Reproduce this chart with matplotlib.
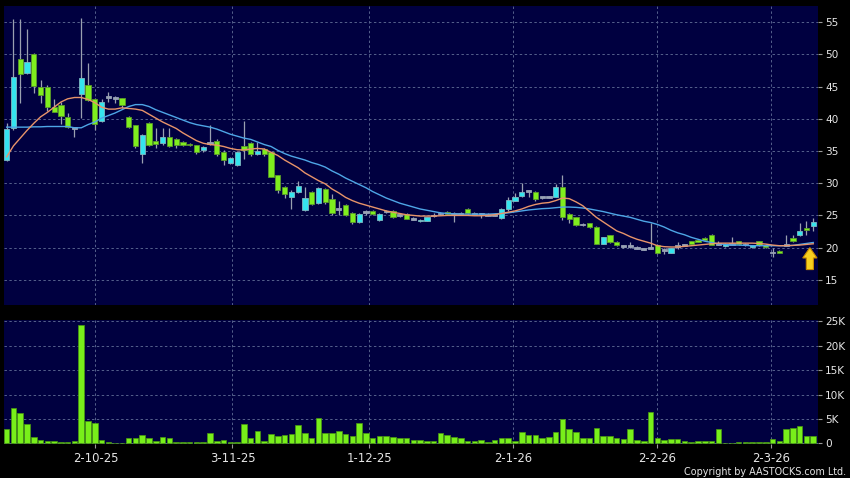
import matplotlib
matplotlib.use("Agg")
import matplotlib.pyplot as plt
from matplotlib.patches import FancyArrow
import numpy as np

# ---------------- data ----------------
opens = [33.6, 38.5, 49.2, 47.05, 50.0, 45.0, 45.0, 41.8, 42.2, 40.2,
         38.6, 43.9, 45.3, 43.0, 39.6, 43.4, 43.2, 43.2, 40.3, 39.0,
         34.5, 39.3, 36.6, 36.2, 37.2, 36.9, 36.35, 36.1, 35.9, 35.15,
         36.3, 36.6, 34.9, 33.1, 32.8, 35.8, 36.2, 34.5, 35.3, 34.8,
         31.2, 29.4, 27.9, 28.7, 25.85, 28.7, 26.9, 29.1, 27.5, 26.0,
         26.6, 25.4, 23.95, 25.5, 25.7, 24.3, 25.6, 25.75, 25.1, 25.2,
         24.5, 24.1, 24.15, 25.0, 25.3, 25.6, 25.3, 25.3, 26.0, 25.2,
         25.2, 25.1, 25.1, 24.6, 26.0, 27.3, 28.0, 28.8, 28.7, 27.8,
         27.8, 27.9, 29.4, 25.2, 24.7, 23.6, 23.8, 23.2, 20.6, 21.9,
         20.95, 20.2, 20.2, 20.0, 19.8, 20.0, 20.45, 19.6, 19.2, 20.3,
         20.4, 21.0, 21.2, 21.5, 22.0, 20.6, 20.2, 20.6, 21.0, 20.5,
         20.05, 21.0, 20.45, 19.25, 19.5, 20.4, 21.5, 21.9, 23.1, 23.4]
highs = [39.4, 55.5, 55.5, 54.0, 50.2, 46.0, 45.2, 43.0, 42.6, 40.9,
         38.8, 55.6, 48.6, 43.3, 43.0, 44.2, 43.6, 43.3, 40.5, 39.1,
         37.6, 39.5, 38.5, 38.5, 38.5, 37.0, 36.5, 36.3, 36.0, 35.8,
         39.0, 36.8, 35.2, 34.0, 35.0, 39.6, 36.4, 36.4, 35.5, 34.9,
         31.3, 29.5, 28.9, 30.4, 29.4, 28.8, 29.4, 29.2, 28.4, 27.2,
         26.8, 25.6, 25.3, 25.9, 25.8, 25.3, 25.9, 25.8, 25.4, 25.3,
         24.8, 24.4, 24.8, 25.3, 25.6, 25.7, 25.5, 25.5, 26.1, 25.5,
         25.4, 25.3, 25.3, 26.1, 27.8, 28.5, 30.0, 28.9, 28.8, 27.9,
         28.0, 29.9, 31.2, 25.3, 24.8, 23.8, 23.9, 23.3, 21.7, 22.0,
         21.0, 20.4, 20.9, 20.2, 20.0, 23.9, 20.5, 20.0, 20.0, 20.8,
         20.6, 21.1, 21.4, 21.7, 22.1, 21.1, 20.7, 21.6, 21.1, 20.7,
         20.4, 21.1, 20.5, 19.9, 19.6, 22.0, 21.9, 23.8, 24.1, 24.6]
lows = [33.4, 38.3, 42.5, 47.0, 44.0, 42.4, 41.2, 41.0, 39.2, 38.5,
        37.2, 40.1, 42.8, 38.3, 39.5, 42.6, 42.4, 41.7, 38.5, 35.5,
        33.1, 35.7, 35.4, 35.9, 35.6, 35.5, 35.8, 35.7, 34.6, 34.9,
        35.9, 34.3, 32.8, 33.0, 32.7, 33.7, 34.2, 34.4, 34.3, 30.9,
        28.5, 27.7, 26.0, 28.5, 25.7, 26.6, 26.8, 26.8, 25.0, 25.0,
        24.9, 23.7, 23.8, 25.1, 25.0, 24.2, 25.3, 24.6, 24.8, 24.4,
        24.3, 24.0, 24.1, 24.7, 25.0, 25.1, 24.0, 25.1, 25.2, 25.0,
        24.6, 24.9, 24.9, 24.4, 25.7, 27.2, 27.9, 27.8, 27.3, 27.6,
        27.7, 27.8, 24.3, 23.8, 23.3, 23.4, 23.0, 20.5, 20.5, 20.7,
        20.3, 20.0, 20.0, 19.8, 19.6, 19.8, 19.0, 19.0, 19.1, 19.8,
        20.2, 20.5, 20.8, 21.1, 20.4, 20.4, 20.1, 20.4, 20.4, 20.3,
        20.0, 20.3, 19.9, 18.6, 19.1, 20.2, 20.8, 21.8, 21.9, 22.6]
closes = [38.4, 46.5, 46.9, 48.75, 45.1, 43.7, 41.8, 41.1, 40.4, 38.7,
          38.6, 46.3, 42.9, 39.2, 42.6, 43.4, 43.2, 42.2, 38.7, 35.7,
          37.5, 35.9, 36.1, 37.2, 35.8, 35.9, 36.0, 35.9, 34.8, 35.6,
          36.3, 34.5, 33.6, 33.9, 34.9, 35.15, 34.6, 35.0, 34.6, 31.0,
          29.0, 28.3, 28.6, 29.6, 27.7, 26.8, 29.2, 27.1, 25.3, 26.0,
          25.1, 24.0, 25.25, 25.5, 25.2, 25.2, 25.6, 24.7, 25.1, 24.5,
          24.5, 24.35, 24.7, 25.0, 25.3, 25.2, 25.3, 25.3, 25.3, 25.2,
          25.2, 25.1, 25.1, 26.0, 27.4, 27.9, 28.7, 28.8, 27.5, 27.8,
          27.8, 29.4, 24.8, 24.4, 23.5, 23.6, 23.2, 20.6, 21.6, 20.8,
          20.4, 20.2, 20.2, 20.0, 19.8, 20.0, 19.1, 19.6, 19.9, 20.3,
          20.4, 20.6, 20.9, 21.2, 20.45, 20.6, 20.6, 20.6, 20.5, 20.5,
          20.35, 20.45, 20.05, 19.25, 19.25, 20.4, 21.0, 22.6, 22.75, 24.0]
volume_k = [2.9, 7.2, 6.2, 4.0, 1.3, 0.7, 0.5, 0.5, 0.2, 0.2,
            0.5, 24.3, 4.6, 4.2, 0.7, 0.2, 0.1, 0.05, 1.1, 1.1,
            1.7, 1.0, 0.5, 1.3, 1.1, 0.2, 0.3, 0.3, 0.2, 0.2,
            2.1, 0.5, 0.6, 0.2, 0.2, 4.0, 1.0, 2.5, 0.4, 1.9,
            1.5, 1.7, 1.9, 3.8, 2.1, 1.0, 5.1, 2.1, 2.1, 2.5,
            1.9, 1.5, 4.2, 2.1, 1.0, 1.4, 1.4, 1.3, 1.0, 1.0,
            0.7, 0.7, 0.5, 0.5, 2.05, 1.7, 1.36, 1.15, 0.5, 0.5,
            0.68, 0.2, 0.62, 1.1, 1.1, 0.5, 2.26, 1.64, 1.7, 1.1,
            1.29, 2.26, 5.0, 2.94, 2.4, 1.1, 1.0, 3.2, 1.57, 1.57,
            1.0, 0.82, 2.87, 0.68, 0.4, 6.37, 1.1, 0.75, 0.82, 0.82,
            0.47, 0.34, 0.54, 0.54, 0.47, 2.94, 0.02, 0.02, 0.34, 0.27,
            0.27, 0.27, 0.2, 0.89, 0.54, 2.94, 3.08, 3.6, 1.57, 1.57]
ma_fast = [34.1, 35.8, 37.0, 38.2, 39.3, 40.3, 41.0, 41.8, 42.6, 43.1,
           43.3, 43.3, 43.0, 42.5, 41.8, 41.5, 41.5, 41.7, 41.6, 41.5,
           41.3, 40.7, 40.1, 39.5, 39.0, 38.5, 37.8, 37.2, 36.6, 36.2,
           36.0, 35.9, 35.7, 35.4, 35.2, 35.15, 35.3, 35.4, 35.3, 34.8,
           34.3, 33.6, 33.0, 32.4, 31.6, 31.0, 30.4, 29.9, 29.1, 28.5,
           27.8, 27.3, 26.9, 26.6, 26.3, 26.0, 25.7, 25.5, 25.3, 25.1,
           25.0, 24.9, 24.9, 24.9, 24.95, 25.0, 25.0, 25.0, 25.0, 24.95,
           24.95, 25.0, 25.1, 25.3, 25.5, 25.7, 26.0, 26.4, 26.7, 26.9,
           27.0, 27.3, 27.7, 27.6, 27.1, 26.5, 25.6, 24.7, 24.0, 23.3,
           22.6, 22.2, 21.7, 21.3, 21.0, 20.7, 20.3, 20.15, 20.1, 20.1,
           20.2, 20.3, 20.4, 20.5, 20.6, 20.7, 20.7, 20.7, 20.7, 20.7,
           20.7, 20.65, 20.55, 20.4, 20.3, 20.3, 20.35, 20.4, 20.5, 20.6]
ma_slow = [38.7, 38.7, 38.7, 38.7, 38.75, 38.75, 38.8, 38.8, 38.8, 38.8,
           38.6, 38.6, 39.1, 39.5, 40.1, 40.5, 40.9, 41.4, 41.9, 42.2,
           42.2, 41.9, 41.4, 41.0, 40.6, 40.2, 39.8, 39.4, 39.1, 38.9,
           38.7, 38.4, 38.0, 37.6, 37.3, 37.0, 36.8, 36.4, 36.0, 35.7,
           35.1, 34.6, 34.2, 33.9, 33.6, 33.2, 32.9, 32.5, 31.9, 31.4,
           30.8, 30.3, 29.8, 29.3, 28.7, 28.2, 27.7, 27.3, 26.9, 26.6,
           26.3, 26.0, 25.8, 25.6, 25.4, 25.3, 25.25, 25.2, 25.2, 25.2,
           25.2, 25.2, 25.25, 25.3, 25.4, 25.55, 25.7, 25.85, 25.95, 26.05,
           26.1, 26.2, 26.3, 26.3, 26.25, 26.15, 26.0, 25.8, 25.6, 25.35,
           25.1, 24.9, 24.7, 24.4, 24.1, 23.9, 23.6, 23.2, 22.7, 22.3,
           22.0, 21.6, 21.3, 21.0, 20.8, 20.6, 20.5, 20.4, 20.4, 20.35,
           20.3, 20.3, 20.3, 20.3, 20.3, 20.3, 20.35, 20.5, 20.65, 20.8]
date_tick_pos = [13.1, 33.3, 53.5, 74.7, 95.9, 112.8]
date_tick_labels = ["2-10-25", "3-11-25", "1-12-25", "2-1-26", "2-2-26", "2-3-26"]
price_ticks = [15, 20, 25, 30, 35, 40, 45, 50, 55]
vol_ticks = [0, 5, 10, 15, 20, 25]
vol_tick_labels = ["0", "5K", "10K", "15K", "20K", "25K"]
copyright_text = "Copyright by AASTOCKS.com Ltd."

# ---------------- style ----------------
plt.rcParams['font.family'] = ['DejaVu Sans']
BG = '#000000'
PANEL = '#000040'
GRID = '#55608c'
UP = '#35e4ee'
DOWN = '#7fee1e'
FLAT = '#98a2b4'
WICK = '#9aa0b0'
TXT = '#e6e6e6'

o = np.array(opens); h = np.array(highs); l = np.array(lows); c = np.array(closes)
x = np.arange(len(c))

fig = plt.figure(figsize=(8.5, 4.78), dpi=100, facecolor=BG)
ax = fig.add_axes([4/850, 1-305/478, 814/850, 299/478], facecolor=PANEL)
axv = fig.add_axes([4/850, 1-443.5/478, 814/850, 124/478], facecolor=PANEL)

for a in (ax, axv):
    for s in a.spines.values():
        s.set_visible(False)
    a.set_xlim(-0.4, len(c) - 0.3)
    a.set_xticks(date_tick_pos)
    a.grid(True, color=GRID, linestyle=(0, (2.5, 2.5)), linewidth=0.7)
    a.set_axisbelow(True)
    a.yaxis.tick_right()
    a.tick_params(axis='y', colors='#9a9a9a', labelcolor=TXT, length=3,
                  width=0.8, labelsize=7.6, pad=2)

# price panel
ax.set_ylim(11.1, 57.5)
ax.set_yticks(price_ticks)
ax.tick_params(axis='x', length=0, labelbottom=False)

colors = np.where(c > o, UP, np.where(c < o, DOWN, FLAT))
edges = np.where(c > o, '#7fb8c0', np.where(c < o, '#5a9a2a', FLAT))
ax.vlines(x, l, h, color=WICK, linewidth=0.9, zorder=2)
body_bottom = np.minimum(o, c)
body_h = np.maximum(np.abs(c - o), 0.28)
body_bottom = np.where(np.abs(c - o) < 0.28, (o + c) / 2 - 0.14, body_bottom)
ax.bar(x, body_h, bottom=body_bottom, width=0.78, color=colors,
       edgecolor=edges, linewidth=0.6, zorder=3)

ax.plot(x, ma_slow, color='#4ea6e6', linewidth=1.0, zorder=4)
ax.plot(x, ma_fast, color='#e8946a', linewidth=1.0, zorder=5)

# yellow arrow under the latest candles
ax.add_patch(FancyArrow(x[-1] - 0.5, 16.6, 0, 3.4, width=1.05, head_width=2.1,
                        head_length=1.6, length_includes_head=True,
                        facecolor='#f7cf1f', edgecolor='#c88a00', linewidth=0.8,
                        zorder=6))

# volume panel
axv.set_ylim(-0.05, 25.4)
axv.set_yticks(vol_ticks)
axv.set_yticklabels(vol_tick_labels)
axv.bar(x, volume_k, width=0.82, color='#78ef1a', edgecolor='#4a9a10',
        linewidth=0.5, zorder=3)
axv.set_xticklabels(date_tick_labels)
axv.tick_params(axis='x', colors='#9a9a9a', labelcolor=TXT, length=3,
                width=0.8, labelsize=8.4, pad=3)

fig.text(0.995, 0.002, copyright_text, ha='right', va='bottom',
         fontsize=6.9, color=TXT)

fig.savefig('out.png', dpi=100, facecolor=BG)
